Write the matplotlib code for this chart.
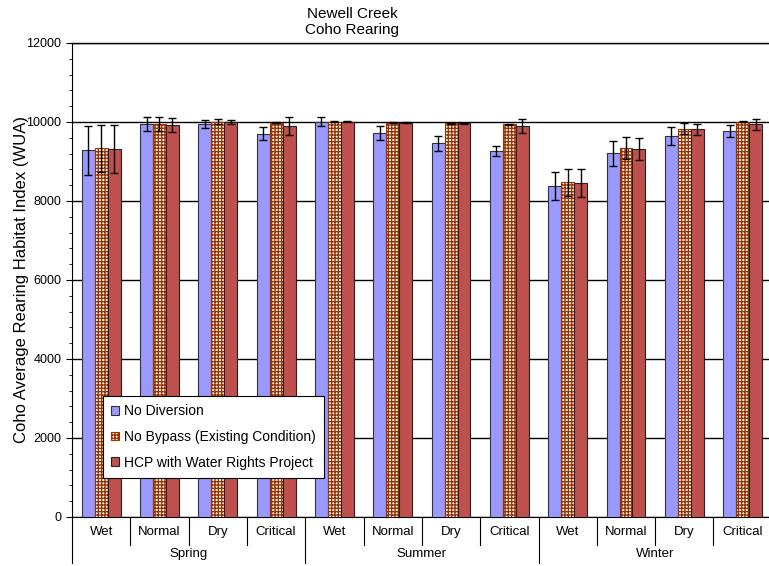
import numpy as np
import matplotlib

matplotlib.use('Agg')
import matplotlib.pyplot as plt
from matplotlib.ticker import MultipleLocator

plt.rcParams['font.family'] = ['Liberation Sans', 'DejaVu Sans']

seasons = ['Spring', 'Summer', 'Winter']
year_types = ['Wet', 'Normal', 'Dry', 'Critical']
series = ['No Diversion', 'No Bypass (Existing Condition)', 'HCP with Water Rights Project']

no_diversion = [9280, 9940, 9940, 9705, 10010, 9720, 9460, 9265, 8380, 9205, 9640, 9765]
no_diversion_err = [610, 180, 100, 160, 110, 180, 195, 125, 350, 315, 220, 150]
no_bypass = [9335, 9940, 10010, 9985, 10010, 9985, 9965, 9940, 8475, 9350, 9830, 10010]
no_bypass_err = [600, 175, 60, 20, 20, 20, 20, 20, 340, 280, 145, 20]
hcp = [9310, 9915, 10010, 9900, 10010, 9985, 9965, 9900, 8450, 9310, 9815, 9940]
hcp_err = [610, 180, 50, 220, 20, 20, 20, 185, 355, 275, 140, 140]

fig = plt.figure(figsize=(7.69, 5.66), dpi=100)
ax = fig.add_axes([0.0936, 0.0866, 0.91, 0.8375])

x = np.arange(len(no_diversion))
w = 0.222
err_kw = dict(ecolor='black', elinewidth=1, capsize=3, capthick=1)
ax.bar(x - w, no_diversion, w, yerr=no_diversion_err, color='#9999FF',
       edgecolor='#333333', linewidth=0.8, error_kw=err_kw, label=series[0], zorder=3)
ax.bar(x, no_bypass, w, yerr=no_bypass_err, color='white', edgecolor='#993300',
       hatch='+++++', linewidth=0.8, error_kw=err_kw, label=series[1], zorder=3)
ax.bar(x + w, hcp, w, yerr=hcp_err, color='#C0504D', edgecolor='#222222',
       linewidth=0.8, error_kw=err_kw, label=series[2], zorder=3)

ax.set_xlim(-0.5, 11.5)
ax.set_ylim(0, 12000)
ax.yaxis.set_major_locator(MultipleLocator(2000))
ax.yaxis.set_minor_locator(MultipleLocator(400))
ax.yaxis.grid(True, color='black', linewidth=1, zorder=0)
ax.tick_params(axis='y', labelsize=9, length=4, direction='out')
ax.tick_params(axis='y', which='minor', length=2)
ax.set_xticks([])
ax.spines['right'].set_visible(False)
ax.spines['top'].set_linewidth(1)
ax.set_ylabel('Coho Average Rearing Habitat Index (WUA)', fontsize=12, labelpad=-2)

# two-level category axis
trans = ax.get_xaxis_transform()
labels = year_types * len(seasons)
for i, lab in enumerate(labels):
    ax.text(i, -0.032, lab, transform=trans, ha='center', va='center', fontsize=9.5)
for b in np.arange(0.5, 11, 1):
    if b in (3.5, 7.5):
        continue
    ax.plot([b, b], [0, -0.06], transform=trans, color='black', lw=0.8, clip_on=False)
for b in [-0.5, 3.5, 7.5, 11.5]:
    ax.plot([b, b], [0, -0.097], transform=trans, color='black', lw=0.8, clip_on=False)
for j, s in enumerate(seasons):
    ax.text(j * 4 + 1.5, -0.078, s, transform=trans, ha='center', va='center', fontsize=9.5)

leg = ax.legend(loc='lower left', bbox_to_anchor=(0.044, 0.082), borderaxespad=0,
                fontsize=10, frameon=True, fancybox=False, edgecolor='black', framealpha=1,
                handlelength=0.6, handleheight=0.6, handletextpad=0.3,
                borderpad=0.6, labelspacing=0.85)
leg.get_frame().set_linewidth(0.8)

fig.text(352 / 769, 1 - 22 / 566, 'Newell Creek\nCoho Rearing', ha='center', va='center',
         fontsize=11, linespacing=1.1)

fig.savefig('out.png', dpi=100)
